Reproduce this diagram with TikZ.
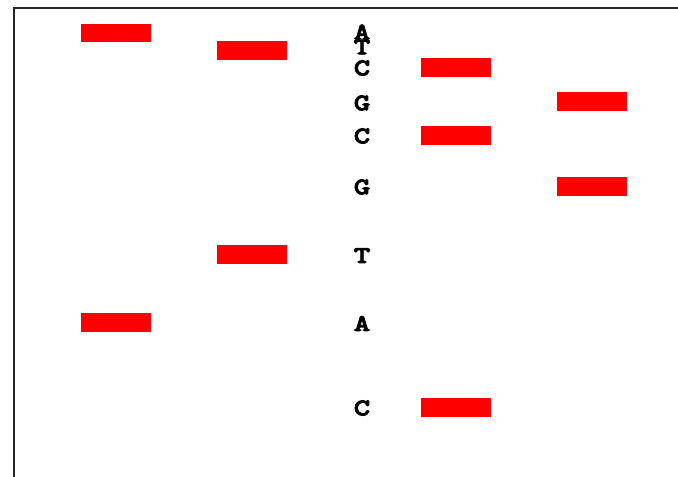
\documentclass[tikz,border=0pt]{standalone}
\usepackage{fontspec}
\newfontfamily\basefont{lmmonolt10-bold.otf}[FakeBold=3.5,FakeStretch=1.3]
\begin{document}
\begin{tikzpicture}[x=0.75pt,y=-0.75pt,
  band/.style={fill=red,draw=none,minimum width=52.5pt,minimum height=13.9pt,inner sep=0pt,outer sep=0pt},
  base/.style={font=\basefont\fontsize{18}{18}\selectfont,inner sep=0pt,anchor=center},
  frame/.style={draw=black!85,line width=1.3pt}]
\useasboundingbox (0,0) rectangle (678,477);
\coordinate (tr) at (678,8);
\coordinate (tl) at (14,8);
\coordinate (bl) at (14,477);
\draw[frame] (tr) -- (tl) -- (bl);
% bands
\node[band] (b1) at (116,33) {};
\node[band] (b2) at (252,50.5) {};
\node[band] (b3) at (456,67.5) {};
\node[band] (b4) at (592,101.5) {};
\node[band] (b5) at (456,135.5) {};
\node[band] (b6) at (592,186.5) {};
\node[band] (b7) at (252,254.5) {};
\node[band] (b8) at (116,322.5) {};
\node[band] (b9) at (456,407.5) {};
% bases
\node[base] (l1) at (362,32) {A};
\node[base] (l2) at (362,47) {T};
\node[base] (l3) at (362,68) {C};
\node[base] (l4) at (362,103) {G};
\node[base] (l5) at (362,136) {C};
\node[base] (l6) at (362,187) {G};
\node[base] (l7) at (362,255.5) {T};
\node[base] (l8) at (362,323.5) {A};
\node[base] (l9) at (362,408) {C};
\end{tikzpicture}
\end{document}
